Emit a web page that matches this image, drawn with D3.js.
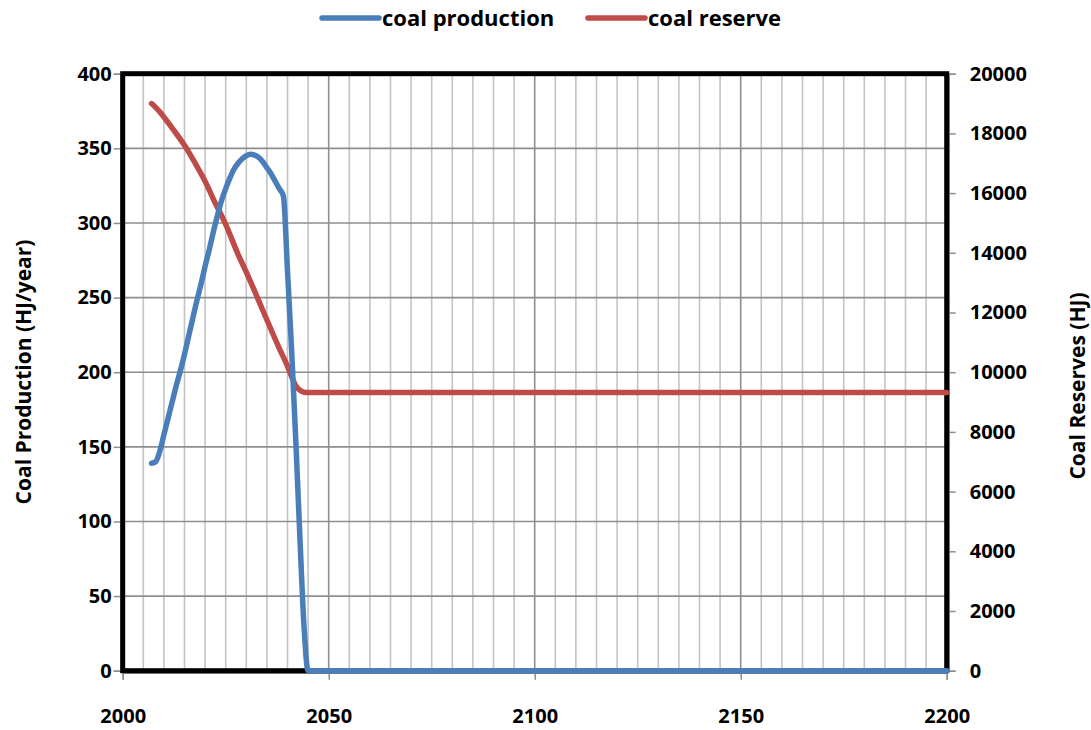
<!DOCTYPE html>
<html>
<head>
<meta charset="utf-8">
<script src="https://cdn.jsdelivr.net/npm/d3@7"></script>
<style>
  html, body { margin: 0; padding: 0; background: #fff; }
  svg { display: block; }
  svg text { font-family: "Open Sans", "Noto Sans", sans-serif !important; font-weight: 700; fill: #000; }
</style>
</head>
<body>
<svg id="chart" width="1091" height="730"></svg>
<script>
// ---------- data ----------
const prodYears = [2007,2008,2009,2010,2011,2012,2013,2014,2015,2016,2017,2018,2019,2020,
  2021,2022,2023,2024,2025,2026,2027,2028,2029,2030,2031,2032,2033,2034,2035,2036,2037,2038,
  2039,2040,2041,2042,2043,2044,2045,2050,2100,2150,2200];
const prodValues = [139,140,147,158,169,180,191,201,212,224,236,248,259,271,
  282,294,305,315,323,330,336,340,343,345,346,345.5,344,341,337,333,328,323,
  318,268,215,155,90,30,0,0,0,0,0];

const resYears = [2007,2008,2009,2010,2012,2015,2018,2020,2022,2025,2028,2030,2033,2035,
  2038,2040,2041,2042,2043,2044,2045,2050,2100,2150,2200];
const resValues = [19000,18870,18720,18550,18180,17600,16900,16400,15800,14950,13950,13350,12400,11750,
  10800,10200,9850,9550,9400,9330,9320,9320,9320,9320,9320];

const xTicks = [2000,2050,2100,2150,2200];
const yLeftTicks = [0,50,100,150,200,250,300,350,400];
const yRightTicks = [0,2000,4000,6000,8000,10000,12000,14000,16000,18000,20000];
const legendItems = [
  {label: "coal production", color: "#4a7ebb"},
  {label: "coal reserve", color: "#be4b48"}
];
const leftTitle = "Coal Production (HJ/year)";
const rightTitle = "Coal Reserves (HJ)";

// ---------- layout ----------
const svg = d3.select("#chart");
const L = 122.7, R = 946.7, T = 73.7, B = 670.7;
const FS = "20px";

const x = d3.scaleLinear().domain([2000, 2200]).range([L, R]);
const yL = d3.scaleLinear().domain([0, 400]).range([B, T]);
const yR = d3.scaleLinear().domain([0, 20000]).range([B, T]);

// grid: minor verticals every 5 years
const minor = d3.range(2005, 2200, 5).filter(v => v % 50 !== 0);
svg.append("g").selectAll("line").data(minor).join("line")
  .attr("x1", d => x(d)).attr("x2", d => x(d))
  .attr("y1", T).attr("y2", B)
  .attr("stroke", "#c4c4c4").attr("stroke-width", 1.6);
// major verticals
svg.append("g").selectAll("line").data(xTicks.slice(1, -1)).join("line")
  .attr("x1", d => x(d)).attr("x2", d => x(d))
  .attr("y1", T).attr("y2", B)
  .attr("stroke", "#8e8e8e").attr("stroke-width", 1.6);
// horizontal grid
svg.append("g").selectAll("line").data(yLeftTicks.slice(1, -1)).join("line")
  .attr("x1", L).attr("x2", R)
  .attr("y1", d => yL(d)).attr("y2", d => yL(d))
  .attr("stroke", "#8e8e8e").attr("stroke-width", 1.6);

// axes (ticks + labels)
const axL = d3.axisLeft(yL).tickValues(yLeftTicks).tickSize(7).tickPadding(2).tickFormat(d3.format("d"));
const axR = d3.axisRight(yR).tickValues(yRightTicks).tickSize(7).tickPadding(14).tickFormat(d3.format("d"));
const axB = d3.axisBottom(x).tickValues(xTicks).tickSize(7).tickPadding(29).tickFormat(d3.format("d"));

function styleAxis(g) {
  g.attr("font-size", null).attr("font-family", null);
  g.select(".domain").attr("stroke", "#8e8e8e").attr("stroke-width", 1.5);
  g.selectAll(".tick line").attr("stroke", "#8e8e8e").attr("stroke-width", 1.5);
  g.selectAll(".tick text").style("font-size", FS);
}
svg.append("g").attr("transform", `translate(${L - 2},0)`).call(axL).call(styleAxis);
svg.append("g").attr("transform", `translate(${R + 2},0)`).call(axR).call(styleAxis);
svg.append("g").attr("transform", `translate(0,${B + 2})`).call(axB).call(styleAxis);

// frame
svg.append("rect")
  .attr("x", L).attr("y", T).attr("width", R - L).attr("height", B - T)
  .attr("fill", "none").attr("stroke", "#000").attr("stroke-width", 5);

// lines
const curve = d3.curveMonotoneX;
const prod = prodYears.map((d, i) => [d, prodValues[i]]);
const res = resYears.map((d, i) => [d, resValues[i]]);
svg.append("path").datum(res)
  .attr("d", d3.line().x(d => x(d[0])).y(d => yR(d[1])).curve(curve))
  .attr("fill", "none").attr("stroke", legendItems[1].color).attr("stroke-width", 5.5)
  .attr("stroke-linecap", "round").attr("stroke-linejoin", "round");
svg.append("path").datum(prod)
  .attr("d", d3.line().x(d => x(d[0])).y(d => yL(d[1])).curve(curve))
  .attr("fill", "none").attr("stroke", legendItems[0].color).attr("stroke-width", 5.5)
  .attr("stroke-linecap", "round").attr("stroke-linejoin", "round");

// axis titles
svg.append("text").attr("transform", `translate(31,${372}) rotate(-90)`)
  .attr("text-anchor", "middle").style("font-size", "21px").text(leftTitle);
svg.append("text").attr("transform", `translate(1085,${386}) rotate(-90)`)
  .attr("text-anchor", "middle").style("font-size", "21px").text(rightTitle);

// legend
const legX = [322, 588];
legendItems.forEach((it, i) => {
  const g = svg.append("g");
  g.append("line").attr("x1", legX[i]).attr("x2", legX[i] + 57).attr("y1", 18).attr("y2", 18)
    .attr("stroke", it.color).attr("stroke-width", 5.5).attr("stroke-linecap", "round");
  g.append("text").attr("x", legX[i] + 60).attr("y", 26).style("font-size", "22px").text(it.label);
});
</script>
</body>
</html>
